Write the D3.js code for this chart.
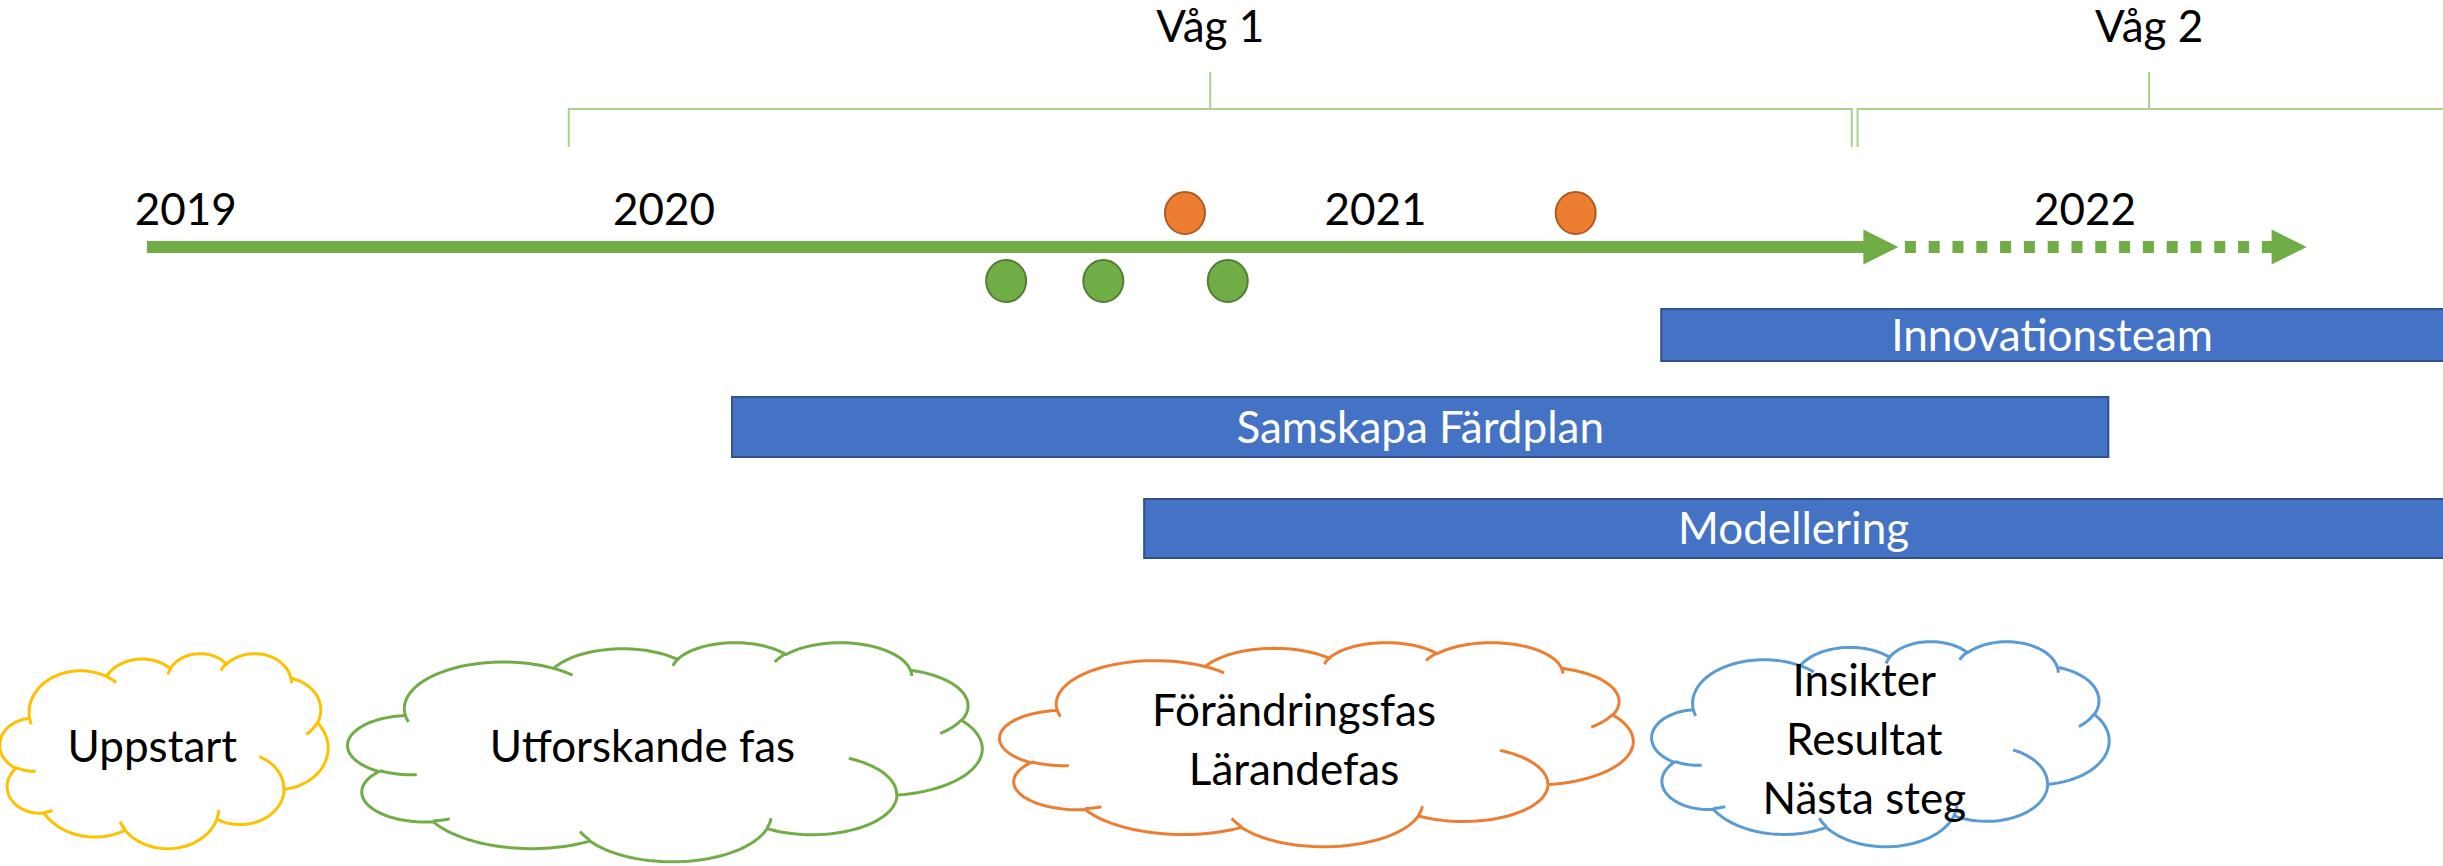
<!DOCTYPE html>
<html>
<head>
<meta charset="utf-8">
<script src="https://cdn.jsdelivr.net/npm/d3@7"></script>
<style>
  html, body { margin: 0; padding: 0; background: #fff; overflow: hidden; }
  svg { display: block; }
  text { font-family: Lato, "Open Sans", sans-serif; }
</style>
</head>
<body>
<script>
const width = 2443
const height = 866

// ---- data ----
const years = ['2019', '2020', '2021', '2022']
const yearDates = ['2019-04-30', '2020-01-01', '2021-01-01', '2022-01-01']

const timelineStart = '2019-04-10'
const timelineDone = '2021-09-27'     // solid arrow
const timelinePlanned = '2022-04-25'  // dotted arrow

const waves = ['Våg 1', 'Våg 2']
const waveStart = ['2019-11-13', '2021-09-06']
const waveMid = ['2020-10-08', '2022-02-03']
const waveEnd = ['2021-09-03', '2022-12-31']

const orangeDates = ['2020-09-25', '2021-04-14']
const greenDates = ['2020-06-25', '2020-08-14', '2020-10-17']

const tracks = ['Innovationsteam', 'Samskapa Färdplan', 'Modellering']
const trackStart = ['2021-05-28', '2020-02-05', '2020-09-04']
const trackEnd = ['2022-12-31', '2022-01-13', '2022-12-31']

const phases = [
  ['Uppstart'],
  ['Utforskande fas'],
  ['Förändringsfas', 'Lärandefas'],
  ['Insikter', 'Resultat', 'Nästa steg']
]

// ---- layout ----
const axisY = 247
const axisW = 12
const headLen = 35
const headH = 35
const dotOffset = 34
const waveTickY = 72, waveBarY = 109, waveFootY = 147, waveLabelY = 42
const yearY = 225
const fontSize = 44
const trackY = [309, 397, 499]
const trackH = [52, 60, 59]
const cloudBox = [
  {x: 0, y: 653, w: 328, h: 195},
  {x: 348, y: 642, w: 634, h: 219},
  {x: 1000, y: 642, w: 633, h: 204},
  {x: 1652, y: 641, w: 457, h: 205}
]
const cloudColor = ['#FFC000', '#70AD47', '#ED7D31', '#5B9BD5']
const lineH = 59

const parse = d3.timeParse('%Y-%m-%d')

const x = d3.scaleTime()
  .domain([parse('2020-01-01'), parse('2022-01-01')])
  .range([664, 2085])

const svg = d3.select('body').append('svg')
  .attr('width', width)
  .attr('height', height)

// ---- wave brackets ----
waves.forEach(function (w, i) {
  const x0 = x(parse(waveStart[i]))
  const x1 = x(parse(waveEnd[i]))
  const xm = x(parse(waveMid[i]))
  svg.append('path')
    .attr('d', 'M' + x0 + ',' + waveFootY + 'V' + waveBarY + 'H' + x1 + 'V' + waveFootY +
               'M' + xm + ',' + waveBarY + 'V' + waveTickY)
    .attr('fill', 'none')
    .attr('stroke', '#a9d18e')
    .attr('stroke-width', 2)
  svg.append('text')
    .attr('x', xm)
    .attr('y', waveLabelY)
    .attr('text-anchor', 'middle')
    .attr('font-size', fontSize)
    .text(w)
})

// ---- year labels ----
svg.selectAll('.year')
  .data(years)
  .enter().append('text')
    .attr('class', 'year')
    .attr('x', (d, i) => x(parse(yearDates[i])))
    .attr('y', yearY)
    .attr('text-anchor', 'middle')
    .attr('font-size', fontSize)
    .text(d => d)

// ---- timeline arrows ----
const xs = x(parse(timelineStart))
const xd = x(parse(timelineDone))
const xp = x(parse(timelinePlanned))
const green = '#70ad47'

svg.append('line')
  .attr('x1', xs).attr('x2', xd - headLen + 1)
  .attr('y1', axisY).attr('y2', axisY)
  .attr('stroke', green).attr('stroke-width', axisW)

svg.append('line')
  .attr('x1', xd + 6.5).attr('x2', xp - headLen + 1)
  .attr('y1', axisY).attr('y2', axisY)
  .attr('stroke', green).attr('stroke-width', axisW)
  .attr('stroke-dasharray', '11 12.8')

function head (tip) {
  svg.append('path')
    .attr('d', 'M' + (tip - headLen) + ',' + (axisY - headH / 2) +
               'L' + tip + ',' + axisY +
               'L' + (tip - headLen) + ',' + (axisY + headH / 2) + 'Z')
    .attr('fill', green)
}
head(xd)
head(xp)

// ---- milestones ----
svg.selectAll('.orange')
  .data(orangeDates)
  .enter().append('ellipse')
    .attr('cx', d => x(parse(d)))
    .attr('cy', axisY - dotOffset)
    .attr('rx', 20).attr('ry', 21)
    .attr('fill', '#ed7d31')
    .attr('stroke', '#ae5a21')
    .attr('stroke-width', 2)

svg.selectAll('.green')
  .data(greenDates)
  .enter().append('ellipse')
    .attr('cx', d => x(parse(d)))
    .attr('cy', axisY + dotOffset)
    .attr('rx', 20).attr('ry', 21)
    .attr('fill', '#70ad47')
    .attr('stroke', '#507e32')
    .attr('stroke-width', 2)

// ---- tracks ----
tracks.forEach(function (t, i) {
  const x0 = x(parse(trackStart[i]))
  const x1 = x(parse(trackEnd[i]))
  svg.append('rect')
    .attr('x', x0).attr('y', trackY[i])
    .attr('width', x1 - x0).attr('height', trackH[i])
    .attr('fill', '#4472c4')
    .attr('stroke', '#2f528f')
    .attr('stroke-width', 2)
  svg.append('text')
    .attr('x', (x0 + Math.min(x1, width)) / 2)
    .attr('y', trackY[i] + trackH[i] / 2)
    .attr('dy', '0.36em')
    .attr('text-anchor', 'middle')
    .attr('font-size', fontSize)
    .attr('fill', '#fff')
    .text(t)
})

// ---- clouds (office "cloud" preset, 43200 x 43200 units) ----
const cloudStart = [3900, 14370]
const cloudArcs = [
  [6753, 9190, -11429249, 7426832], [5333, 7267, -8646143, 5396714],
  [4365, 5945, -8748475, 5983381], [4857, 6595, -7859164, 7034504],
  [5333, 7273, -4722533, 6541615], [6775, 9220, -2776035, 7816140],
  [5785, 7867, 37501, 6842000], [6752, 9215, 1347096, 6910353],
  [7720, 10543, 3974558, 4542661], [4360, 5918, -16496525, 8804134],
  [4345, 5945, -14809710, 9151131]
]
const cloudInner = [
  [4693, 26177, 4345, 5945, 5204520, 1585770],
  [6928, 34899, 4360, 5918, 4416628, 686848],
  [16478, 39090, 6752, 9215, 8257449, 844866],
  [28827, 34751, 6752, 9215, 387196, 959901],
  [34129, 22954, 5785, 7867, -4217541, 4255042],
  [41798, 15354, 5333, 7273, 1819082, 1665090],
  [38324, 5426, 4857, 6595, -824660, 891069],
  [29078, 3952, 4857, 6595, -8950887, 1091957],
  [22141, 4720, 4365, 5945, -9809656, 1061653],
  [14000, 5192, 6753, 9190, -4002417, 739161],
  [4127, 15789, 6753, 9190, 9459261, 711490]
]

function arcPoints (p, wR, hR, st, sw) {
  const a0 = st / 60000 * Math.PI / 180
  const a1 = (st + sw) / 60000 * Math.PI / 180
  const pt = function (a) {
    const r = wR * hR / Math.hypot(hR * Math.cos(a), wR * Math.sin(a))
    return [r * Math.cos(a), r * Math.sin(a)]
  }
  const s = pt(a0)
  const cx = p[0] - s[0], cy = p[1] - s[1]
  const n = 40
  const out = []
  for (let k = 1; k <= n; k++) {
    const q = pt(a0 + (a1 - a0) * k / n)
    out.push([cx + q[0], cy + q[1]])
  }
  return out
}

cloudBox.forEach(function (b, i) {
  const sx = d3.scaleLinear().domain([0, 43200]).range([b.x, b.x + b.w])
  const sy = d3.scaleLinear().domain([0, 43200]).range([b.y, b.y + b.h])
  const line = d3.line().x(d => sx(d[0])).y(d => sy(d[1]))

  let pts = [cloudStart]
  let cur = cloudStart
  cloudArcs.forEach(function (a) {
    const seg = arcPoints(cur, a[0], a[1], a[2], a[3])
    pts = pts.concat(seg)
    cur = seg[seg.length - 1]
  })
  svg.append('path')
    .attr('d', line(pts) + 'Z')
    .attr('fill', '#fff')
    .attr('stroke', cloudColor[i])
    .attr('stroke-width', 3)

  let inner = ''
  cloudInner.forEach(function (a) {
    const p0 = [a[0], a[1]]
    inner += line([p0].concat(arcPoints(p0, a[2], a[3], a[4], a[5])))
  })
  svg.append('path')
    .attr('d', inner)
    .attr('fill', 'none')
    .attr('stroke', cloudColor[i])
    .attr('stroke-width', 3)

  // text box of the preset: x 2977..17087, y 3262..17337 of 21600
  const tx = b.x + b.w * (2977 + 17087) / 2 / 21600
  const ty = b.y + b.h * (3262 + 17337) / 2 / 21600
  const lines = phases[i]
  svg.selectAll(null)
    .data(lines)
    .enter().append('text')
      .attr('x', tx)
      .attr('y', (d, k) => ty + (k - (lines.length - 1) / 2) * lineH)
      .attr('dy', '0.36em')
      .attr('text-anchor', 'middle')
      .attr('font-size', fontSize)
      .text(d => d)
})
</script>
</body>
</html>
